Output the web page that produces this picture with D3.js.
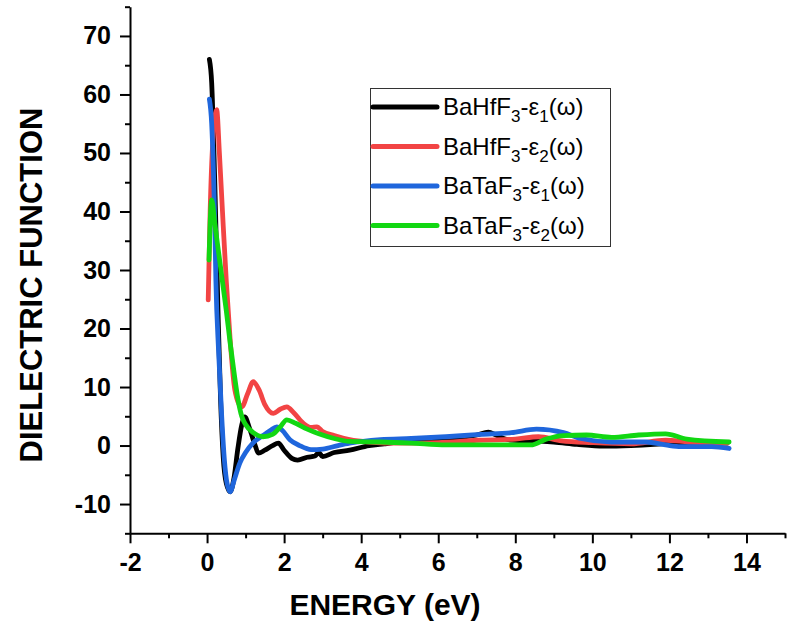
<!DOCTYPE html>
<html>
<head>
<meta charset="utf-8">
<script src="https://cdn.jsdelivr.net/npm/d3@7"></script>
<style>
  body { margin: 0; background: #fff; }
  text { font-family: "Liberation Sans", Arial, sans-serif; }
</style>
</head>
<body>
<div id="chart"></div>
<script>
// BaHfF3 eps1 (black)
const hfE1x = [0.06, 0.12, 0.2, 0.29, 0.35, 0.42, 0.5, 0.6, 0.7, 0.8, 0.9, 0.98, 1.1, 1.25, 1.33, 1.5, 1.7, 1.85, 2.0, 2.2, 2.35, 2.6, 2.8, 2.9, 3.0, 3.3, 3.7, 4.2, 4.6, 5.2, 6.0, 6.6, 7.0, 7.3, 7.5, 7.8, 8.4, 9.0, 9.6, 10.3, 11.0, 11.6, 12.2, 12.8, 13.5];
const hfE1y = [66, 62, 45, 21.5, 8, -2, -6.5, -7.9, -5.5, -0.5, 3.5, 4.9, 3.0, 0, -1.3, -0.8, 0.0, 0.4, -0.8, -2.2, -2.5, -2.0, -1.8, -1.2, -1.9, -1.2, -0.8, 0.0, 0.3, 0.7, 1.0, 1.4, 1.8, 2.3, 1.8, 1.0, 0.8, 0.6, 0.2, -0.1, 0.0, 0.2, 0.5, 0.6, 0.4];
// BaHfF3 eps2 (red)
const hfE2x = [0.03, 0.08, 0.15, 0.25, 0.32, 0.4, 0.5, 0.6, 0.7, 0.8, 0.9, 1.05, 1.2, 1.35, 1.5, 1.72, 1.9, 2.07, 2.25, 2.5, 2.7, 2.85, 3.0, 3.3, 3.7, 4.2, 5.0, 6.0, 7.0, 8.0, 8.6, 9.2, 10.0, 11.0, 11.9, 12.5, 13.5];
const hfE2y = [24.9, 40, 52, 57.4, 50, 40, 28, 18, 10.5, 7.5, 6.6, 8.8, 10.9, 9.5, 7.0, 5.5, 6.2, 6.6, 5.6, 3.8, 3.1, 3.2, 2.4, 1.7, 1.0, 0.6, 0.4, 0.5, 0.9, 1.1, 1.5, 0.8, 0.5, 0.3, 0.9, 0.6, 0.4];
// BaTaF3 eps1 (blue)
const taE1x = [0.06, 0.12, 0.2, 0.23, 0.3, 0.38, 0.45, 0.52, 0.6, 0.7, 0.85, 1.0, 1.2, 1.45, 1.65, 1.81, 1.95, 2.15, 2.4, 2.7, 3.0, 3.4, 3.7, 4.5, 5.3, 6.2, 7.1, 7.9, 8.55, 9.25, 9.7, 10.5, 11.4, 11.9, 12.3, 13.1, 13.55];
const taE1y = [59.2, 55, 38, 28, 16, 5, -2.5, -6.5, -7.9, -6.0, -3.0, -1.2, 0.5, 1.7, 2.6, 3.2, 2.6, 1.0, 0.0, -0.7, -0.6, 0.0, 0.4, 1.0, 1.2, 1.5, 1.9, 2.2, 2.8, 2.2, 1.2, 0.6, 0.6, 0.1, -0.2, -0.2, -0.5];
// BaTaF3 eps2 (green)
const taE2x = [0.05, 0.08, 0.12, 0.2, 0.3, 0.4, 0.5, 0.6, 0.7, 0.8, 0.9, 1.0, 1.2, 1.45, 1.7, 1.9, 2.07, 2.3, 2.6, 2.9, 3.3, 3.7, 4.5, 5.3, 6.2, 7.2, 8.4, 8.8, 9.25, 9.85, 10.5, 11.2, 11.9, 12.45, 13.55];
const taE2y = [31.7, 38, 42, 38, 33, 28, 23, 17.5, 12.5, 8, 5, 3.6, 2.2, 1.5, 1.9, 3.2, 4.4, 3.8, 2.8, 2.0, 1.2, 0.7, 0.6, 0.4, 0.1, 0.1, 0.1, 1.1, 1.7, 1.8, 1.4, 1.8, 2.0, 1.1, 0.6];

const seriesNames = ["BaHfF3-e1", "BaHfF3-e2", "BaTaF3-e1", "BaTaF3-e2"];
const xTicks = [-2, 0, 2, 4, 6, 8, 10, 12, 14];
const yTicks = [-10, 0, 10, 20, 30, 40, 50, 60, 70];

const series = [
  { name: seriesNames[0], compound: "BaHfF", eps: "1", xs: hfE1x, ys: hfE1y, color: "#000000" },
  { name: seriesNames[1], compound: "BaHfF", eps: "2", xs: hfE2x, ys: hfE2y, color: "#f24444" },
  { name: seriesNames[2], compound: "BaTaF", eps: "1", xs: taE1x, ys: taE1y, color: "#1f66dc" },
  { name: seriesNames[3], compound: "BaTaF", eps: "2", xs: taE2x, ys: taE2y, color: "#12d712" }
];

const svgW = 788, svgH = 628;
const plotL = 130, plotR = 785, plotT = 6.7, plotB = 533.3;

const svg = d3.select("#chart").append("svg")
  .attr("width", svgW)
  .attr("height", svgH);

const x = d3.scaleLinear().domain([-2, 15]).range([plotL, plotR]);
const y = d3.scaleLinear().domain([-15, 75]).range([plotB, plotT]);

// curves
const line = d3.line()
  .x(d => x(d[0]))
  .y(d => y(d[1]))
  .curve(d3.curveMonotoneX);

series.forEach(s => {
  svg.append("path")
    .datum(s.xs.map((v, i) => [v, s.ys[i]]))
    .attr("fill", "none")
    .attr("stroke", s.color)
    .attr("stroke-width", 4.8)
    .attr("stroke-linejoin", "round")
    .attr("stroke-linecap", "round")
    .attr("d", line);
});

// axes
const xMinor = d3.range(-1, 16, 2);
const yMinor = d3.range(-15, 80, 10);

svg.append("g")
  .attr("transform", `translate(0,${plotB})`)
  .call(d3.axisBottom(x).tickValues(xMinor).tickSize(5).tickSizeOuter(0).tickFormat(""))
  .call(g => g.select(".domain").remove())
  .selectAll("line").attr("stroke-width", 2);

const xAxis = svg.append("g")
  .attr("transform", `translate(0,${plotB})`)
  .call(d3.axisBottom(x).tickValues(xTicks).tickSize(10).tickSizeOuter(0)
    .tickPadding(10).tickFormat(d => String(d)));

svg.append("g")
  .attr("transform", `translate(${plotL},0)`)
  .call(d3.axisLeft(y).tickValues(yMinor).tickSize(5).tickSizeOuter(0).tickFormat(""))
  .call(g => g.select(".domain").remove())
  .selectAll("line").attr("stroke-width", 2);

const yAxis = svg.append("g")
  .attr("transform", `translate(${plotL},0)`)
  .call(d3.axisLeft(y).tickValues(yTicks).tickSize(10).tickSizeOuter(0)
    .tickPadding(9).tickFormat(d => String(d)));

[xAxis, yAxis].forEach(g => {
  g.select(".domain").attr("stroke-width", 2);
  g.selectAll(".tick line").attr("stroke-width", 2);
  g.selectAll(".tick text")
    .attr("fill", "#000")
    .style("font-size", "25px")
    .style("font-weight", "bold")
    .style("font-family", "'Liberation Sans', Arial, sans-serif");
});

// axis titles
svg.append("text")
  .attr("x", 385)
  .attr("y", 615)
  .attr("text-anchor", "middle")
  .style("font-size", "30px")
  .style("font-weight", "bold")
  .text("ENERGY (eV)");

svg.append("text")
  .attr("transform", "translate(42,285) rotate(-90)")
  .attr("text-anchor", "middle")
  .style("font-size", "31px")
  .style("font-weight", "bold")
  .text("DIELECTRIC FUNCTION");

// legend
const legend = svg.append("g");
legend.append("rect")
  .attr("x", 370.5).attr("y", 88.5)
  .attr("width", 240).attr("height", 158)
  .attr("fill", "#fff")
  .attr("stroke", "#333")
  .attr("stroke-width", 1);

series.forEach((s, i) => {
  const ry = 107 + i * 39.5;
  legend.append("line")
    .attr("x1", 373).attr("x2", 437)
    .attr("y1", ry).attr("y2", ry)
    .attr("stroke", s.color)
    .attr("stroke-width", 5)
    .attr("stroke-linecap", "round");
  const t = legend.append("text")
    .attr("x", 443).attr("y", ry + 8)
    .style("font-size", "24px")
    .attr("fill", "#000");
  t.append("tspan").text(s.compound);
  t.append("tspan").attr("dy", 7).style("font-size", "17px").text("3");
  t.append("tspan").attr("dy", -7).text("-ε");
  t.append("tspan").attr("dy", 7).style("font-size", "17px").text(s.eps);
  t.append("tspan").attr("dy", -7).text("(ω)");
});
</script>
</body>
</html>
